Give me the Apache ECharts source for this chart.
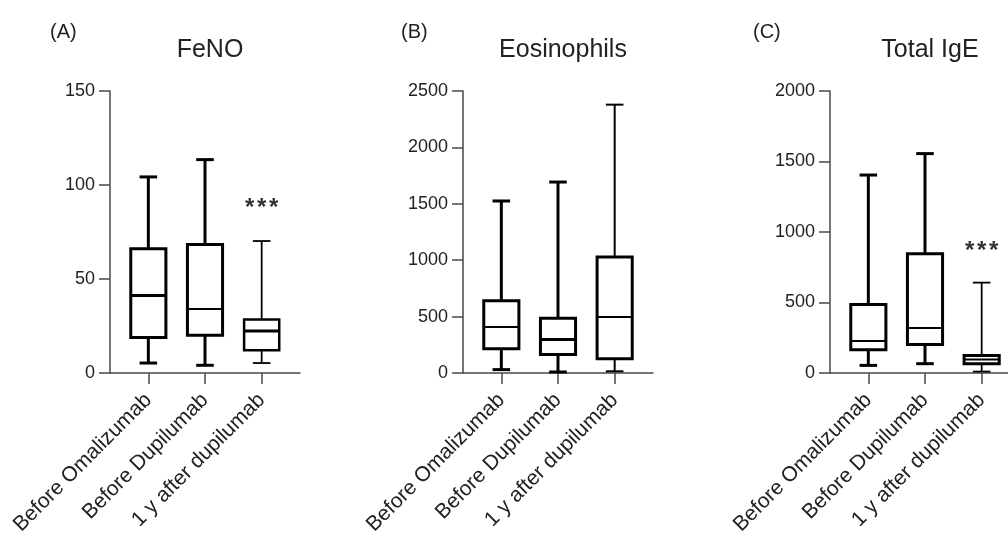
<!DOCTYPE html>
<html>
<head>
<meta charset="utf-8">
<script src="https://cdn.jsdelivr.net/npm/echarts@6/dist/echarts.min.js"></script>
<style>
html,body{margin:0;padding:0;background:#fff;}
#chart{width:1008px;height:536px;}
</style>
</head>
<body>
<div id="chart"></div>
<script>
// ---- data ----
const categories = ['Before Omalizumab', 'Before Dupilumab', '1 y after dupilumab'];
const panelLetters = ['(A)', '(B)', '(C)'];
const panelTitles = ['FeNO', 'Eosinophils', 'Total IgE'];

// [min, Q1, median, Q3, max] per group
const fenoStats = [[5.3, 18.9, 41.2, 66.1, 104.3], [4.1, 20.1, 34.0, 68.4, 113.5], [5.3, 12.1, 22.3, 28.5, 70.2]];
const eosStats  = [[30, 216, 408, 641, 1525], [9, 163, 298, 485, 1693], [15, 127, 496, 1028, 2379]];
const igeStats  = [[54, 165, 227, 485, 1404], [66, 203, 319, 846, 1556], [10, 66, 96, 125, 641]];

const fenoTicks = [0, 50, 100, 150];
const eosTicks  = [0, 500, 1000, 1500, 2000, 2500];
const igeTicks  = [0, 500, 1000, 1500, 2000];

// significance marks: [category index, value, text]
const fenoSig = [[2, 87.5, '***']];
const eosSig  = [];
const igeSig  = [[2, 860, '***']];

// ---- styles / layout ----
const axisX = [110, 463, 830];
const gridTop = 91, gridH = 282, axisLen = 190, pad = 10;
const lineStyles = [
  [{b:3,m:3,w:3},{b:3,m:2,w:3},{b:2.5,m:3,w:1.8}],
  [{b:3,m:2,w:3},{b:3,m:3,w:3},{b:3,m:2,w:2}],
  [{b:3,m:2,w:3},{b:3,m:2,w:3},{b:3,m:2,w:1.8}]
];
const axisColor = '#4a4a4a';
const textColor = '#222';
const font = 'Liberation Sans, Arial, sans-serif';
const starGap = 12;

const panels = [
  {stats: fenoStats, ticks: fenoTicks, sig: fenoSig},
  {stats: eosStats, ticks: eosTicks, sig: eosSig},
  {stats: igeStats, ticks: igeTicks, sig: igeSig}
];

function makeRender(styles) {
  return function (params, api) {
    const i = api.value(0);
    const lo = api.coord([i, api.value(1)]);
    const q1 = api.coord([i, api.value(2)]);
    const md = api.coord([i, api.value(3)]);
    const q3 = api.coord([i, api.value(4)]);
    const hi = api.coord([i, api.value(5)]);
    const band = api.size([1, 0])[0];
    const hw = band * 0.31, cw = hw * 0.5;
    const st = styles[params.dataIndex];
    const x = lo[0];
    const s = (w) => ({stroke: '#000', lineWidth: w, fill: null});
    return {
      type: 'group',
      children: [
        {type: 'line', shape: {x1: x, y1: hi[1], x2: x, y2: q3[1]}, style: s(st.w)},
        {type: 'line', shape: {x1: x, y1: q1[1], x2: x, y2: lo[1]}, style: s(st.w)},
        {type: 'line', shape: {x1: x - cw, y1: hi[1], x2: x + cw, y2: hi[1]}, style: s(st.w)},
        {type: 'line', shape: {x1: x - cw, y1: lo[1], x2: x + cw, y2: lo[1]}, style: s(st.w)},
        {type: 'rect', shape: {x: x - hw, y: q3[1], width: 2 * hw, height: q1[1] - q3[1]},
          style: {stroke: '#000', lineWidth: st.b, fill: 'rgba(0,0,0,0)'}},
        {type: 'line', shape: {x1: x - hw, y1: md[1], x2: x + hw, y2: md[1]}, style: s(st.m)}
      ]
    };
  };
}

function renderSig(params, api) {
  const c = api.coord([api.value(0), api.value(1)]);
  const chars = sigText[params.seriesIndex][params.dataIndex].split('');
  const n = chars.length;
  return {
    type: 'group',
    children: chars.map((ch, j) => ({
      type: 'text', x: c[0] + (j - (n - 1) / 2) * starGap, y: c[1],
      style: {text: ch, fontSize: 24, fontWeight: 'bold', fontFamily: font,
        fill: '#333', align: 'center', verticalAlign: 'middle'}
    }))
  };
}
const sigText = {};

const grid = [], xAxis = [], yAxis = [], series = [], title = [];
panels.forEach((p, k) => {
  const ax = axisX[k];
  const min = p.ticks[0], max = p.ticks[p.ticks.length - 1], interval = p.ticks[1] - p.ticks[0];
  grid.push({left: ax, top: gridTop, width: axisLen, height: gridH, containLabel: false, outerBoundsMode: 'none'});
  grid.push({left: ax + pad, top: gridTop, width: axisLen - 2 * pad, height: gridH, containLabel: false, outerBoundsMode: 'none'});
  const g0 = 2 * k, g1 = 2 * k + 1;
  xAxis.push({
    type: 'value', gridIndex: g0, min: 0, max: 1,
    axisLine: {show: true, onZero: false, lineStyle: {color: axisColor, width: 1.5}},
    axisTick: {show: false}, axisLabel: {show: false}, splitLine: {show: false}
  });
  xAxis.push({
    type: 'category', gridIndex: g1, data: categories, boundaryGap: true,
    axisLine: {show: false},
    axisTick: {show: true, alignWithLabel: true, length: 11, lineStyle: {color: axisColor, width: 1.5}},
    axisLabel: {show: true, interval: 0, rotate: 45, margin: 24, verticalAlign: 'middle',
      fontSize: 21, fontFamily: font, color: textColor},
    splitLine: {show: false}
  });
  yAxis.push({
    type: 'value', gridIndex: g0, min: min, max: max, interval: interval,
    axisLine: {show: true, lineStyle: {color: axisColor, width: 1.5}},
    axisTick: {show: true, length: 11, lineStyle: {color: axisColor, width: 1.5}},
    axisLabel: {show: true, margin: 15, fontSize: 18, fontFamily: font, color: textColor,
      formatter: (v) => String(v)},
    splitLine: {show: false}
  });
  yAxis.push({
    type: 'value', gridIndex: g1, min: min, max: max, show: false, splitLine: {show: false}
  });
  series.push({
    type: 'custom', xAxisIndex: g1, yAxisIndex: g1,
    renderItem: makeRender(lineStyles[k]),
    encode: {x: 0, y: [1, 2, 3, 4, 5]},
    data: p.stats.map((s, i) => [i].concat(s)),
    silent: true, animation: false
  });
  if (p.sig.length) {
    sigText[series.length] = p.sig.map(d => d[2]);
    series.push({
      type: 'custom', xAxisIndex: g1, yAxisIndex: g1,
      renderItem: renderSig,
      encode: {x: 0, y: 1},
      data: p.sig.map(d => [d[0], d[1]]),
      silent: true, animation: false
    });
  }
  const mid = ax + pad + (axisLen - 2 * pad) / 2;
  title.push({text: panelTitles[k], left: mid, top: 33, textAlign: 'center',
    textStyle: {fontSize: 25, fontWeight: 'normal', fontFamily: font, color: textColor}});
});
title.push({text: panelLetters[0], left: 45, top: 17, textStyle: {fontSize: 20, fontWeight: 'normal', fontFamily: font, color: textColor}});
title.push({text: panelLetters[1], left: 396, top: 17, textStyle: {fontSize: 20, fontWeight: 'normal', fontFamily: font, color: textColor}});
title.push({text: panelLetters[2], left: 748, top: 17, textStyle: {fontSize: 20, fontWeight: 'normal', fontFamily: font, color: textColor}});

const chart = echarts.init(document.getElementById('chart'), null, {renderer: 'canvas'});
chart.setOption({
  backgroundColor: '#fff',
  animation: false,
  title: title,
  grid: grid,
  xAxis: xAxis,
  yAxis: yAxis,
  series: series
});
</script>
</body>
</html>
